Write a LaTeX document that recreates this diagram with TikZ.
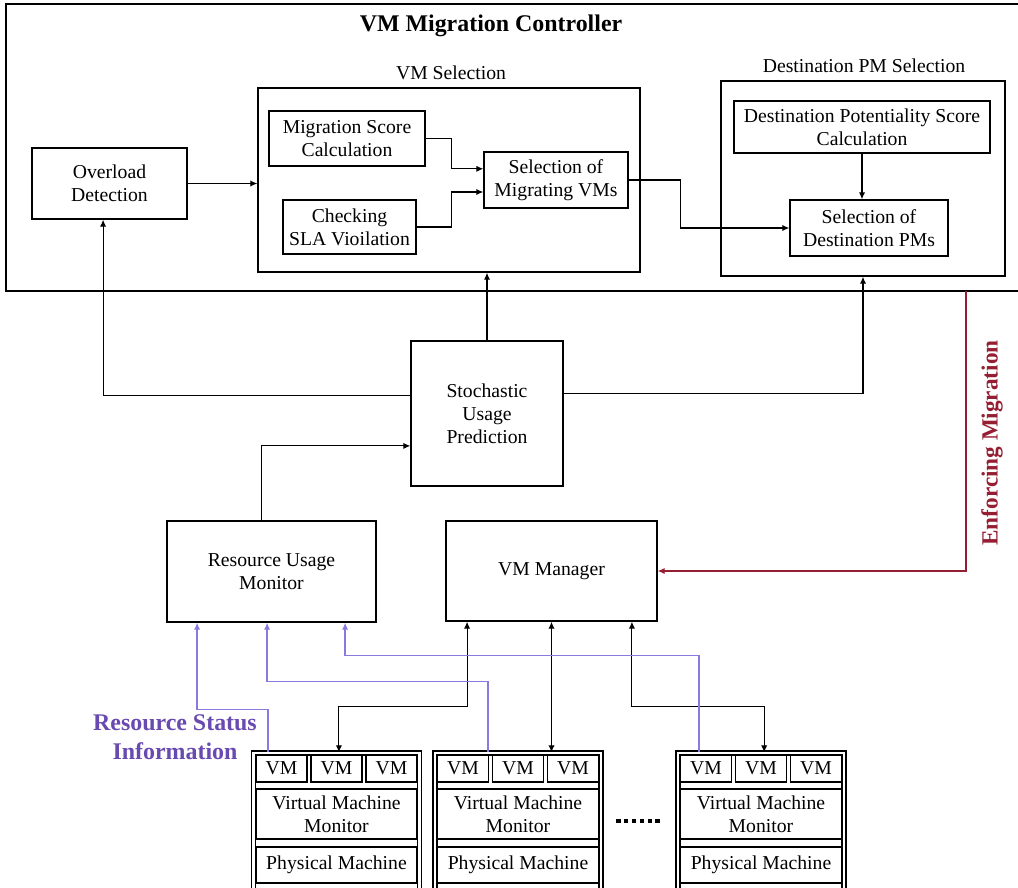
\documentclass[tikz,border=0pt]{standalone}
\usepackage{fontspec}
\setmainfont{Liberation Serif}
\usetikzlibrary{arrows.meta}
\definecolor{mpurple}{RGB}{138,122,222}
\definecolor{mpurpletext}{RGB}{104,74,176}
\definecolor{mred}{RGB}{150,30,50}
\tikzset{blk/.style = {draw, line width=1pt, align=center, inner sep=0pt,
                       font=\fontsize{14}{16.5}\selectfont},
         sz/.style 2 args = {minimum width=#1*0.025cm, minimum height=#2*0.025cm},
         lbl/.style = {font=\fontsize{14}{16.5}\selectfont},
         arr/.style = {line width=0.8pt, -{Latex[length=5pt,width=4.5pt]}},
         darr/.style = {line width=0.8pt, {Latex[length=5pt,width=4.5pt]}-{Latex[length=5pt,width=4.5pt]}},
         parr/.style = {mpurple, line width=0.9pt, -{Latex[length=5pt,width=4.5pt]}},
         rarr/.style = {mred, line width=0.8pt, -{Latex[length=5pt,width=4.5pt]}}}

\begin{document}
\begin{tikzpicture}[x=0.025cm, y=-0.025cm]
    \useasboundingbox (0,0) rectangle (1018,887);
    \clip (0,0) rectangle (1018,887);

    % controller
    \draw [line width=1pt] (6,4) rectangle (1040,291);
    \node [font=\fontsize{17}{20}\selectfont\bfseries] (title) at (491,26) {VM Migration Controller};

    \node [blk, sz={382}{184}] (vmsel) at (449,180) {};
    \node [lbl] (vmsellbl) at (451,73) {VM Selection};
    \node [blk, sz={156}{55}] (mscore) at (347,138.5) {Migration Score\\Calculation};
    \node [blk, sz={133}{54}] (sla) at (349.5,227) {Checking\\SLA Vioilation};
    \node [blk, sz={144}{56}] (selmig) at (556,180) {Selection of\\Migrating VMs};
    \node [blk, sz={155}{71}] (overload) at (109.5,183.5) {Overload\\Detection};

    \node [blk, sz={284}{195}] (dpm) at (863,178.5) {};
    \node [lbl] (dpmlbl) at (864,66) {Destination PM Selection};
    \node [blk, sz={256}{52}] (dscore) at (862,127) {Destination Potentiality Score\\Calculation};
    \node [blk, sz={158}{56}] (seldest) at (869,228) {Selection of\\Destination PMs};

    % prediction, monitor, manager
    \node [blk, sz={152}{145}] (stoch) at (487,413.5) {Stochastic\\Usage\\Prediction};
    \node [blk, sz={209}{101}] (rum) at (271.5,571.5) {Resource Usage\\Monitor};
    \node [blk, sz={211}{100}] (vmm) at (551.5,571) {VM Manager};

    % hosts
    \foreach \n/\cx in {1/336.5, 2/518, 3/761} {
      \node [draw, double, line width=1pt, double distance=1.6pt, sz={166}{140}] (host\n) at (\cx,823) {};
      \foreach \k/\dx in {a/-1, b/0, c/1}
        \node [blk, sz={51}{27}] (vm\n\k) at (\cx+55*\dx,768.5) {VM};
      \node [blk, sz={161}{50}] (hyp\n) at (\cx,814) {Virtual Machine\\Monitor};
      \node [blk, sz={161}{36}] (pm\n) at (\cx,865) {Physical Machine};
    }
    \draw [line width=2.2pt, dash pattern=on 3.2pt off 2.4pt] (616,821) -- (662,821);

    % inside the controller
    \coordinate (upin) at ([yshift=0.28cm]selmig.west);
    \coordinate (lowin) at ([yshift=-0.3cm]selmig.west);
    \draw [arr] (overload.east) -- (overload.east -| vmsel.west);
    \draw [arr] (mscore.east) -- ++(26,0) |- (upin);
    \draw [arr] (sla.east) -- ++(35,0) |- (lowin);
    \draw [arr] (selmig.east) -- ++(52,0) |- (seldest.west);
    \draw [arr] (dscore.south) -- (dscore.south |- seldest.north);

    % prediction feeds
    \draw [arr] (stoch.north) -- (stoch.north |- vmsel.south);
    \draw [arr] ([yshift=0.44cm]stoch.west) -| ([xshift=-0.16cm]overload.south);
    \draw [arr] ([yshift=0.49cm]stoch.east) -| (dpm.south);
    \draw [arr] ([xshift=-0.24cm]rum.north) |- ([yshift=-0.81cm]stoch.west);

    % enforcing migration
    \coordinate (enf) at (966,291);
    \draw [rarr] (enf) |- (vmm.east);
    \node [font=\fontsize{16.5}{20}\selectfont\bfseries, text=mred, rotate=90] (enflbl) at (992,443) {Enforcing Migration};

    % manager to hosts
    \draw [darr] ([xshift=-2.11cm]vmm.south) -- ++(0,85) -| ([xshift=0.06cm]host1.north);
    \draw [darr] (vmm.south) -- (vmm.south |- host2.north);
    \draw [darr] ([xshift=2.01cm]vmm.south) -- ++(0,85) -| ([xshift=0.08cm]host3.north);

    % status information
    \draw [parr] ([xshift=-1.71cm]host1.north) -- ++(0,-43) -| ([xshift=-1.86cm]rum.south);
    \draw [parr] ([xshift=-0.75cm]host2.north) -- ++(0,-71) -| ([xshift=-0.11cm]rum.south);
    \draw [parr] ([xshift=-1.55cm]host3.north) -- ++(0,-97) -| ([xshift=1.84cm]rum.south);
    \node [font=\fontsize{17}{21}\selectfont\bfseries, text=mpurpletext, align=center] (rsi) at (175,737) {Resource Status\\Information};
\end{tikzpicture}
\end{document}
